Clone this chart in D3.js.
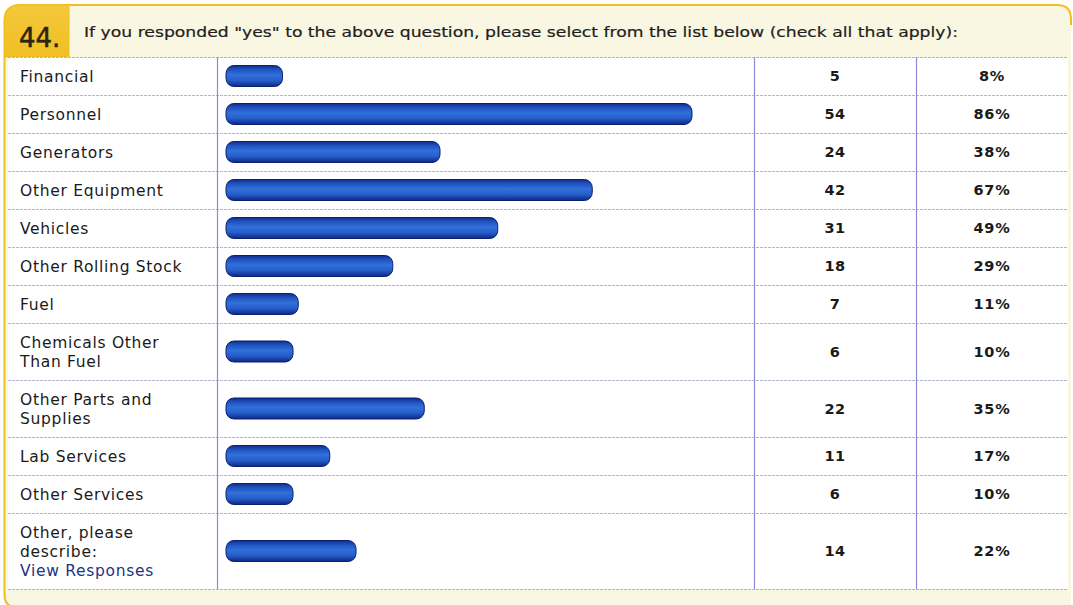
<!DOCTYPE html>
<html>
<head>
<meta charset="utf-8">
<script src="https://cdn.jsdelivr.net/npm/d3@7"></script>
<style>
  html, body { margin: 0; padding: 0; background: #ffffff; }
  svg { display: block; }
  text { font-family: "DejaVu Sans", Verdana, sans-serif; }
</style>
</head>
<body>
<svg id="chart" width="1073" height="605"></svg>
<script>
// Survey question 44: resources requested, with response counts and shares
const questionNumber = "44.";
const questionText = 'If you responded "yes" to the above question, please select from the list below (check all that apply):';
const categories = [
  ["Financial"],
  ["Personnel"],
  ["Generators"],
  ["Other Equipment"],
  ["Vehicles"],
  ["Other Rolling Stock"],
  ["Fuel"],
  ["Chemicals Other", "Than Fuel"],
  ["Other Parts and", "Supplies"],
  ["Lab Services"],
  ["Other Services"],
  ["Other, please", "describe:", "View Responses"]
];
const counts = [5, 54, 24, 42, 31, 18, 7, 6, 22, 11, 6, 14];
const percents = [8, 86, 38, 67, 49, 29, 11, 10, 35, 17, 10, 22];
const linkLabel = "View Responses";

const svg = d3.select("#chart");
const defs = svg.append("defs");

// Glossy tube gradient for the bars
const grad = defs.append("linearGradient")
  .attr("id", "barGrad").attr("x1", 0).attr("y1", 0).attr("x2", 0).attr("y2", 1);
[[0, "#0e2c8a"], [0.18, "#1f50bd"], [0.45, "#3170da"], [0.72, "#255cc8"], [1, "#0c2884"]]
  .forEach(([o, c]) => grad.append("stop").attr("offset", o).attr("stop-color", c));

// Gold gradient for the number tab
const tabGrad = defs.append("linearGradient")
  .attr("id", "tabGrad").attr("x1", 0).attr("y1", 0).attr("x2", 0).attr("y2", 1);
[[0, "#f4c83c"], [1, "#f0bf22"]]
  .forEach(([o, c]) => tabGrad.append("stop").attr("offset", o).attr("stop-color", c));

// Frame geometry
const frameL = 4.5, frameT = 5, frameR = 1071, frameB = 607;
const tableL = 8, tableR = 1068, tableTop = 57;
const colBar = 217, colCount = 754, colPct = 916;
const gold = "#eebf1f";

// Cream panel
svg.append("path")
  .attr("d", `M${frameL},${frameT + 16} Q${frameL},${frameT} ${frameL + 16},${frameT}
              L${frameR - 14},${frameT} Q${frameR},${frameT} ${frameR},${frameT + 14}
              L${frameR},${frameB} L${frameL + 12},${frameB} Q${frameL},${frameB} ${frameL},${frameB - 12} Z`)
  .attr("fill", "#f9f6e2");

// Gold outline: left side, top and the rounded upper-right corner
svg.append("path")
  .attr("d", `M${frameL + 12},${frameB} Q${frameL},${frameB} ${frameL},${frameB - 12}
              L${frameL},${frameT + 16} Q${frameL},${frameT} ${frameL + 16},${frameT}
              L${frameR - 14},${frameT} Q${frameR},${frameT} ${frameR},${frameT + 14} L${frameR},${frameT + 20}`)
  .attr("fill", "none")
  .attr("stroke", gold)
  .attr("stroke-width", 2);

// Number tab
svg.append("path")
  .attr("d", `M${frameL},${frameT + 16} Q${frameL},${frameT} ${frameL + 16},${frameT}
              L69,${frameT} L69,${tableTop} L${frameL},${tableTop} Z`)
  .attr("fill", "url(#tabGrad)")
  .attr("stroke", gold)
  .attr("stroke-width", 1);

svg.append("text")
  .attr("x", 19).attr("y", 47)
  .attr("font-size", 26)
  .attr("fill", "#2b2410")
  .attr("stroke", "#2b2410").attr("stroke-width", 0.5)
  .text(questionNumber);

svg.append("text")
  .attr("x", 84).attr("y", 37)
  .attr("font-size", 14.5)
  .attr("fill", "#1e1e1e")
  .attr("stroke", "#1e1e1e").attr("stroke-width", 0.2)
  .attr("textLength", 874)
  .attr("lengthAdjust", "spacingAndGlyphs")
  .text(questionText);

// Row layout: each row grows with its number of text lines
const lineH = 19, padH = 19;
const rowHeights = categories.map(c => c.length * lineH + padH);
const rowTops = [];
rowHeights.reduce((acc, h) => { rowTops.push(acc); return acc + h; }, tableTop);
const tableBottom = tableTop + d3.sum(rowHeights);

// Table body
svg.append("rect")
  .attr("x", tableL).attr("y", tableTop)
  .attr("width", tableR - tableL).attr("height", tableBottom - tableTop)
  .attr("fill", "#ffffff");

// Horizontal row separators
const hLines = [tableTop, ...rowTops.slice(1), tableBottom];
svg.append("g").selectAll("line").data(hLines).join("line")
  .attr("x1", tableL).attr("x2", tableR)
  .attr("y1", d => d + 0.5).attr("y2", d => d + 0.5)
  .attr("stroke", "#b3b3d4")
  .attr("stroke-width", 1.2)
  .attr("stroke-dasharray", "3,1");

// Column separators
svg.append("g").selectAll("line").data([colBar, colCount, colPct]).join("line")
  .attr("x1", d => d + 0.5).attr("x2", d => d + 0.5)
  .attr("y1", tableTop).attr("y2", tableBottom)
  .attr("stroke", "#8a8ad6")
  .attr("stroke-width", 1.2);

// Bar scale: a rounded cap plus a share-proportional body
const barStart = 226;
const x = d3.scaleLinear().domain([0, 100]).range([barStart + 14.5, barStart + 14.5 + 525]);
const barH = 21;

const rows = svg.append("g").selectAll("g").data(categories).join("g")
  .attr("transform", (d, i) => `translate(0,${rowTops[i]})`);

rows.append("rect")
  .attr("x", barStart)
  .attr("y", (d, i) => rowHeights[i] / 2 - barH / 2)
  .attr("width", (d, i) => x(percents[i]) - barStart)
  .attr("height", barH)
  .attr("rx", 8).attr("ry", 8)
  .attr("fill", "url(#barGrad)")
  .attr("stroke", "#0a2170")
  .attr("stroke-width", 1);

// Category labels (multi-line where needed)
rows.each(function (lines, i) {
  const g = d3.select(this);
  const h = rowHeights[i];
  const first = h / 2 - (lines.length - 1) * lineH / 2;
  lines.forEach((ln, k) => {
    g.append("text")
      .attr("x", 20)
      .attr("y", first + k * lineH)
      .attr("dy", "0.36em")
      .attr("font-size", 15.5)
      .attr("letter-spacing", 0.7)
      .attr("fill", ln === linkLabel ? "#1b3584" : "#1a1a1a")
      .text(ln);
  });
});

// Count column
rows.append("text")
  .attr("x", (colCount + colPct) / 2)
  .attr("y", (d, i) => rowHeights[i] / 2)
  .attr("dy", "0.36em")
  .attr("text-anchor", "middle")
  .attr("font-size", 14.5)
  .attr("font-weight", "bold")
  .attr("letter-spacing", 0.4)
  .attr("fill", "#1a1a1a")
  .text((d, i) => counts[i]);

// Percent column
rows.append("text")
  .attr("x", (colPct + tableR) / 2)
  .attr("y", (d, i) => rowHeights[i] / 2)
  .attr("dy", "0.36em")
  .attr("text-anchor", "middle")
  .attr("font-size", 14.5)
  .attr("font-weight", "bold")
  .attr("letter-spacing", 0.8)
  .attr("fill", "#1a1a1a")
  .text((d, i) => percents[i] + "%");
</script>
</body>
</html>
